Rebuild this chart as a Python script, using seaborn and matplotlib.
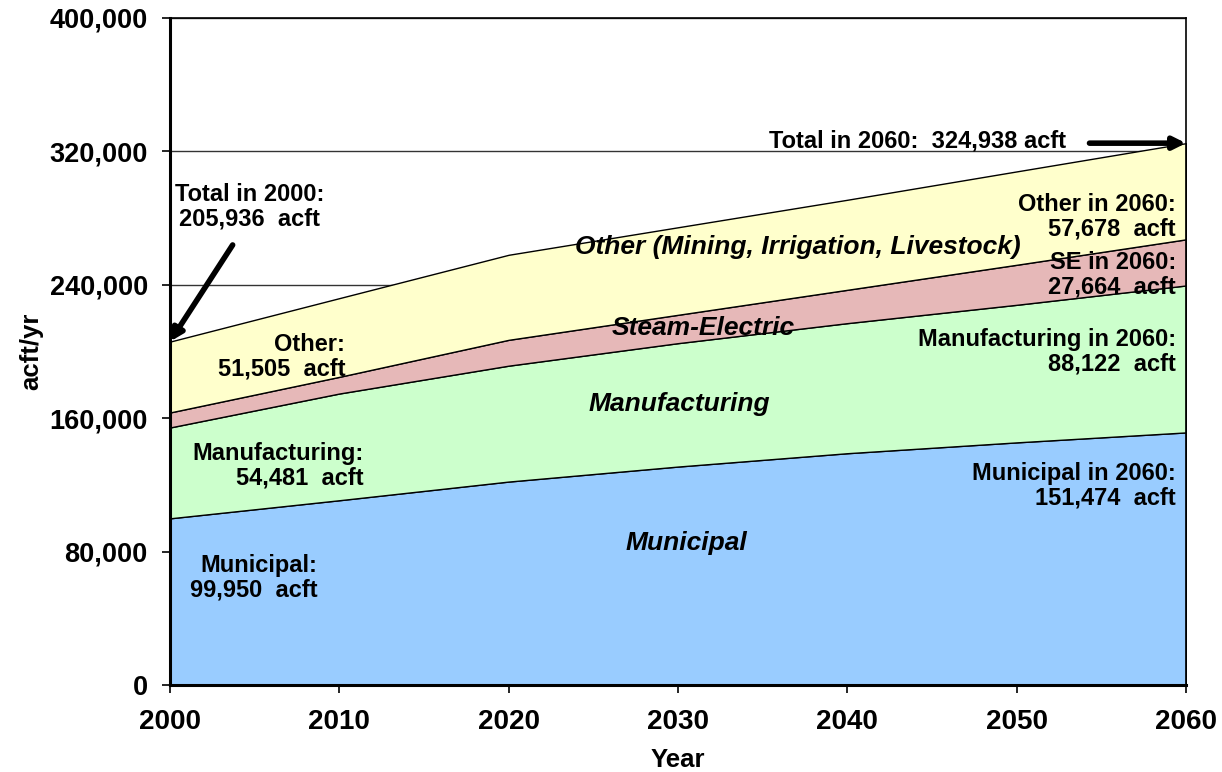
import matplotlib
matplotlib.use("Agg")
import matplotlib.pyplot as plt
import seaborn as sns
from matplotlib.ticker import FuncFormatter

# Water demand projections by use category (acft/yr)
years = [2000, 2010, 2020, 2030, 2040, 2050, 2060]
municipal = [99950, 110800, 122000, 131000, 139000, 145500, 151474]
manufacturing = [54481, 64000, 69500, 74000, 78000, 82500, 88122]
steam_electric = [9000, 10000, 15500, 17000, 20000, 24000, 27664]
other = [42505, 47200, 51000, 52500, 54000, 56000, 57678]

category_names = ["Municipal", "Manufacturing", "Steam-Electric",
                  "Other (Mining, Irrigation, Livestock)"]
category_colors = ["#99CCFF", "#CCFFCC", "#E6B8B8", "#FFFFCC"]

y_ticks = [0, 80000, 160000, 240000, 320000, 400000]

sns.set_theme(style="white")
plt.rcParams["font.family"] = ["Liberation Sans", "DejaVu Sans"]
plt.rcParams["font.weight"] = "bold"
plt.rcParams["text.color"] = "black"
plt.rcParams["axes.labelcolor"] = "black"
plt.rcParams["xtick.color"] = "black"
plt.rcParams["ytick.color"] = "black"

fig = plt.figure(figsize=(12.22, 7.72), dpi=100)
ax = fig.add_axes([170 / 1222, 87 / 772, 1016 / 1222, 667 / 772])

# gridlines sit behind the stacked bands
ax.set_axisbelow(True)
ax.yaxis.grid(True, color="#333333", linewidth=1.0)
ax.xaxis.grid(False)

ax.stackplot(years, municipal, manufacturing, steam_electric, other,
             colors=category_colors, edgecolor="black", linewidth=1.0,
             labels=category_names, zorder=2)

ax.set_xlim(2000, 2060)
ax.set_ylim(0, 400000)
ax.set_xticks(years)
ax.set_yticks(y_ticks)
ax.yaxis.set_major_formatter(FuncFormatter(lambda v, p: f"{int(v):,}"))
ax.tick_params(axis="both", which="major", direction="out", length=6,
               width=1.2, colors="black", labelsize=20,
               left=True, bottom=True)
ax.tick_params(axis="y", pad=10, labelsize=19.5)
ax.tick_params(axis="x", pad=11)
for lab in ax.get_xticklabels() + ax.get_yticklabels():
    lab.set_fontweight("bold")

for side in ["left", "bottom"]:
    ax.spines[side].set_linewidth(2.2)
    ax.spines[side].set_color("black")
for side in ["top", "right"]:
    ax.spines[side].set_linewidth(1.2)
    ax.spines[side].set_color("black")

ax.set_xlabel("Year", fontsize=18.5, fontweight="bold", va="center")
ax.set_ylabel("acft/yr", fontsize=18.5, fontweight="bold", va="center")
ax.xaxis.set_label_coords(0.5, -0.112)
ax.yaxis.set_label_coords(-0.137, 0.5)

# band names
band_font = dict(fontsize=19, fontweight="bold", fontstyle="italic",
                 ha="center", va="center", color="black", zorder=5)
ax.text(2037.1, 262700, category_names[3], **band_font)
ax.text(2031.5, 214100, category_names[2], **band_font)
ax.text(2030.1, 168500, category_names[1], **band_font)
ax.text(2030.5, 85200, category_names[0], **band_font)

# values at the start year
ann_font = dict(fontsize=17, fontweight="bold", va="center",
                linespacing=1.1, color="black", zorder=5)
total_2000 = municipal[0] + manufacturing[0] + steam_electric[0] + other[0]
other_2000 = steam_electric[0] + other[0]
ax.text(2004.7, 287000, f"Total in 2000:\n{total_2000:,}  acft",
        ha="center", **ann_font)
ax.text(2010.35, 196700, f"Other:\n{other_2000:,}  acft", ha="right",
        multialignment="right", **ann_font)
ax.text(2011.45, 131300, f"Manufacturing:\n{manufacturing[0]:,}  acft",
        ha="right", multialignment="right", **ann_font)
ax.text(2008.7, 64200, f"Municipal:\n{municipal[0]:,}  acft", ha="right",
        multialignment="right", **ann_font)

# values at the end year
total_2060 = municipal[-1] + manufacturing[-1] + steam_electric[-1] + other[-1]
ax.text(2059.4, 280700, f"Other in 2060:\n{other[-1]:,}  acft",
        ha="right", multialignment="right", **ann_font)
ax.text(2059.4, 245900, f"SE in 2060:\n{steam_electric[-1]:,}  acft",
        ha="right", multialignment="right", **ann_font)
ax.text(2059.4, 199700, f"Manufacturing in 2060:\n{manufacturing[-1]:,}  acft",
        ha="right", multialignment="right", **ann_font)
ax.text(2059.4, 119300, f"Municipal in 2060:\n{municipal[-1]:,}  acft",
        ha="right", multialignment="right", **ann_font)
ax.text(2052.9, 326500, f"Total in 2060:  {total_2060:,} acft",
        ha="right", **ann_font)

arrow = dict(arrowstyle="-|>", color="black", lw=4, mutation_scale=18,
             shrinkA=0, shrinkB=0)
ax.annotate("", xy=(years[0], total_2000), xytext=(2003.7, 263900),
            arrowprops=arrow, zorder=6)
ax.annotate("", xy=(years[-1], total_2060), xytext=(2054.3, total_2060),
            arrowprops=arrow, zorder=6)

fig.savefig("out.png", dpi=100)
